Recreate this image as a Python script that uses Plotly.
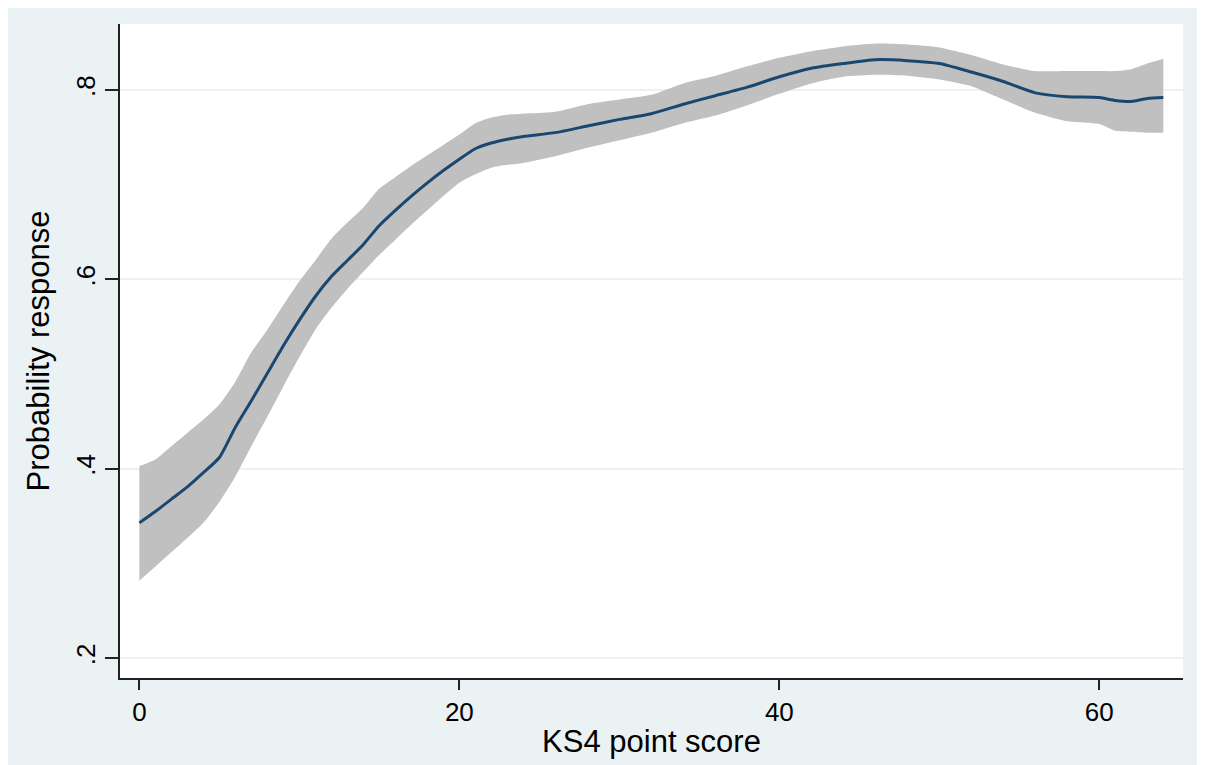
import plotly.graph_objects as go

# KS4 point score grid
ks4_score = [0, 1, 2, 3, 4, 5, 6, 7, 8, 9, 10, 11, 12, 13, 14, 15, 16, 17, 18, 19, 20,
             21, 22, 23, 24, 26, 28, 30, 32, 34, 36, 38, 40, 42, 44, 46, 48, 50, 52, 54,
             56, 58, 60, 61, 62, 63, 64]
# Fitted probability of response
prob_mean = [0.343, 0.355, 0.368, 0.381, 0.396, 0.412, 0.444, 0.472, 0.501, 0.530, 0.557,
             0.582, 0.603, 0.620, 0.637, 0.657, 0.673, 0.688, 0.702, 0.715, 0.727,
             0.738, 0.744, 0.748, 0.751, 0.755, 0.762, 0.769, 0.775, 0.785, 0.794, 0.803,
             0.814, 0.823, 0.828, 0.832, 0.831, 0.828, 0.819, 0.809,
             0.797, 0.793, 0.792, 0.789, 0.788, 0.791, 0.792]
# Upper confidence bound
prob_upper = [0.403, 0.410, 0.424, 0.438, 0.452, 0.468, 0.492, 0.523, 0.547, 0.573, 0.598,
              0.620, 0.643, 0.660, 0.676, 0.696, 0.708, 0.720, 0.731, 0.742, 0.753,
              0.765, 0.771, 0.774, 0.775, 0.777, 0.785, 0.790, 0.795, 0.807, 0.815, 0.825,
              0.834, 0.841, 0.846, 0.849, 0.848, 0.845, 0.837, 0.827,
              0.820, 0.820, 0.820, 0.820, 0.822, 0.828, 0.833]
# Lower confidence bound
prob_lower = [0.282, 0.297, 0.312, 0.327, 0.343, 0.365, 0.392, 0.424, 0.455, 0.487, 0.518,
              0.547, 0.570, 0.590, 0.608, 0.626, 0.642, 0.658, 0.673, 0.688, 0.702,
              0.711, 0.718, 0.721, 0.723, 0.730, 0.739, 0.747, 0.755, 0.765, 0.773, 0.784,
              0.796, 0.807, 0.814, 0.816, 0.815, 0.811, 0.804, 0.790,
              0.776, 0.767, 0.764, 0.757, 0.756, 0.755, 0.755]

x_ticks = [0, 20, 40, 60]
y_ticks = [0.2, 0.4, 0.6, 0.8]
y_tick_labels = [".2", ".4", ".6", ".8"]

BG = "#EAF2F3"
FONT = "Liberation Sans, Arial, sans-serif"
FS = 26

fig = go.Figure()
fig.add_trace(go.Scatter(x=ks4_score, y=prob_upper, mode="lines",
                         line=dict(width=0, color="#C0C0C0", shape="spline", smoothing=0.6),
                         showlegend=False, hoverinfo="skip"))
fig.add_trace(go.Scatter(x=ks4_score, y=prob_lower, mode="lines",
                         line=dict(width=0, color="#C0C0C0", shape="spline", smoothing=0.6),
                         fill="tonexty", fillcolor="#C0C0C0", showlegend=False,
                         hoverinfo="skip"))
fig.add_trace(go.Scatter(x=ks4_score, y=prob_mean, mode="lines",
                         line=dict(width=3, color="#1A476F", shape="spline", smoothing=0.6),
                         showlegend=False))

fig.update_layout(
    width=1213, height=773,
    margin=dict(l=112, r=38, t=16, b=103),
    paper_bgcolor=BG,
    plot_bgcolor="white",
    font=dict(family=FONT, size=FS, color="black"),
    xaxis=dict(
        range=[-1.21, 65.23], tickvals=x_ticks, ticktext=[str(v) for v in x_ticks],
        showgrid=False, zeroline=False, showline=True, linecolor="#222222", linewidth=1.5,
        ticks="outside", ticklen=10, tickwidth=1.5, tickcolor="#222222",
        title=dict(text="KS4 point score", standoff=4),
        tickfont=dict(size=FS),
    ),
    yaxis=dict(
        range=[0.1792, 0.8697], tickvals=y_ticks, ticktext=y_tick_labels,
        tickangle=-90, showgrid=True, gridcolor=BG, gridwidth=2,
        zeroline=False, showline=True, linecolor="#222222", linewidth=1.5,
        ticks="outside", ticklen=13, tickwidth=1.5, tickcolor="#222222",
        title=dict(text="Probability response", standoff=12),
        tickfont=dict(size=FS),
    ),
)

fig.write_html("out.html", post_script="document.body.style.overflow='hidden';")
